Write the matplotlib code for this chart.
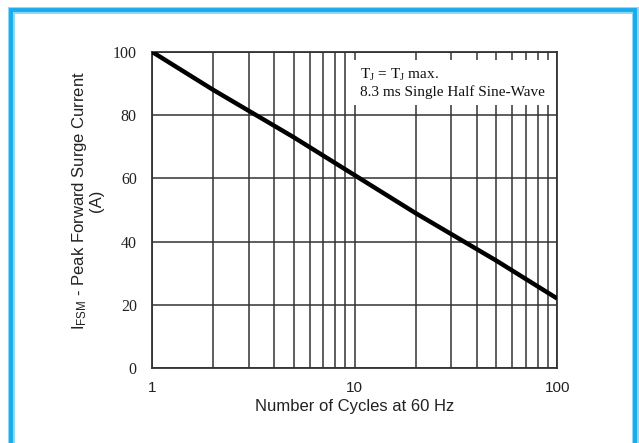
import numpy as np
import matplotlib
matplotlib.use('Agg')
import matplotlib.pyplot as plt
from matplotlib.patches import Rectangle
from matplotlib.ticker import FixedLocator, NullFormatter

# surge current vs number of cycles
cycles = [1, 2, 5, 10, 20, 50, 100]
current = [100, 88, 73, 61, 49, 34, 22]
y_ticks = [0, 20, 40, 60, 80, 100]
x_ticks = [1, 10, 100]
x_minor = [2, 3, 4, 5, 6, 7, 8, 9, 20, 30, 40, 50, 60, 70, 80, 90]

sans = 'Liberation Sans'
serif = 'Liberation Serif'
dark = '#222222'

fig = plt.figure(figsize=(6.39, 4.43), dpi=100)
ax = fig.add_axes([0.238, 0.169, 0.634, 0.714])

ax.plot(cycles, current, color='black', lw=3.2, solid_capstyle='butt', zorder=4)

ax.set_xscale('log')
ax.set_xlim(1, 100)
ax.set_ylim(0, 100)
ax.xaxis.set_major_locator(FixedLocator(x_ticks))
ax.xaxis.set_minor_locator(FixedLocator(x_minor))
ax.xaxis.set_minor_formatter(NullFormatter())
ax.set_xticklabels([str(t) for t in x_ticks], fontfamily=sans, fontsize=11, color=dark)
ax.set_yticks(y_ticks)
ax.set_yticklabels([str(t) for t in y_ticks], fontfamily=serif, fontsize=11.5, color=dark)
ax.tick_params(which='both', length=0)
ax.tick_params(axis='y', pad=11)
ax.tick_params(axis='x', pad=9)

ax.grid(True, which='both', axis='x', color='#333333', lw=1.1)
ax.grid(True, which='major', axis='y', color='#333333', lw=1.1)
for s in ax.spines.values():
    s.set_color('#333333')
    s.set_linewidth(1.3)

ax.set_xlabel('Number of Cycles at 60 Hz', fontfamily=sans, fontsize=12, color=dark, labelpad=3)
ax.set_ylabel('$\\mathregular{I_{FSM}}$ - Peak Forward Surge Current\n(A)',
              fontfamily=sans, fontsize=12, color=dark, linespacing=1.05)
ax.yaxis.set_label_coords(-0.118, 0.53)

ax.text(10.6, 95.2, '$\\mathregular{T_J}$ = $\\mathregular{T_J}$ max.\n8.3 ms Single Half Sine-Wave',
        fontfamily=serif, fontsize=11, color='#111111', va='top', ha='left', linespacing=1.15,
        zorder=3,
        bbox=dict(boxstyle='square,pad=0.4', facecolor='white', edgecolor='none'))

# blue frame around the figure
fig.add_artist(Rectangle((0.0175, -0.1), 0.976, 1.077, transform=fig.transFigure,
                         fill=False, edgecolor='#8fd6f7', lw=5, clip_on=False))
fig.add_artist(Rectangle((0.0175, -0.1), 0.976, 1.077, transform=fig.transFigure,
                         fill=False, edgecolor='#18acef', lw=2.8, clip_on=False))

fig.savefig('out.png', dpi=100)
